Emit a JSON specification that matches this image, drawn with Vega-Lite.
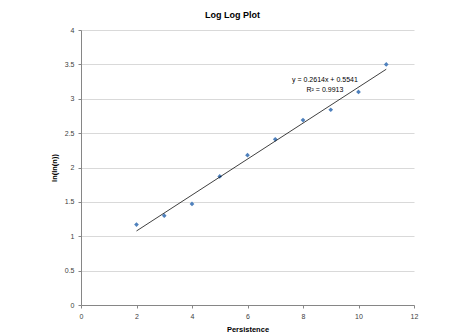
{
  "$schema": "https://vega.github.io/schema/vega-lite/v6.json",
  "width": 333,
  "height": 275,
  "autosize": {"type": "none"},
  "padding": {"left": 81, "top": 30, "right": 40, "bottom": 30},
  "background": "white",
  "title": {"text": "Log Log Plot", "font": "Liberation Sans", "fontSize": 9, "fontWeight": "bold", "color": "#000000", "offset": 6, "dx": -15},
  "config": {
    "view": {"stroke": null},
    "axis": {"labelFont": "Liberation Sans", "labelFontSize": 7, "labelColor": "#404040", "titleFont": "Liberation Sans", "titleFontSize": 7.5, "titleFontWeight": "bold", "titleColor": "#000000", "domainColor": "#868686", "tickColor": "#868686", "tickSize": 3, "gridColor": "#d9d9d9", "labelOverlap": false, "labelFlush": false, "labelExpr": "datum.value + ''"}
  },
  "encoding": {
    "x": {"field": "x", "type": "quantitative", "scale": {"domain": [0, 12]}, "axis": {"values": [0, 2, 4, 6, 8, 10, 12], "grid": false, "title": "Persistence", "titlePadding": 6, "labelPadding": 4}},
    "y": {"field": "y", "type": "quantitative", "scale": {"domain": [0, 4]}, "axis": {"values": [0, 0.5, 1, 1.5, 2, 2.5, 3, 3.5, 4], "tickCount": 9, "grid": true, "title": "ln(ln(n))", "titlePadding": 6, "labelPadding": 4}}
  },
  "layer": [
    {
      "data": {"values": [
        {"x": 2, "y": 1.17}, {"x": 3, "y": 1.30}, {"x": 4, "y": 1.47}, {"x": 5, "y": 1.87},
        {"x": 6, "y": 2.18}, {"x": 7, "y": 2.41}, {"x": 8, "y": 2.69}, {"x": 9, "y": 2.84},
        {"x": 10, "y": 3.10}, {"x": 11, "y": 3.50}
      ]},
      "mark": {"type": "point", "shape": "diamond", "filled": true, "color": "#4f81bd", "size": 22, "opacity": 1}
    },
    {
      "data": {"values": [{"x": 2, "y": 1.0769}, {"x": 11, "y": 3.4295}]},
      "mark": {"type": "line", "color": "#000000", "strokeWidth": 0.75}
    },
    {
      "data": {"values": [{"x": 8.79, "y": 3.27, "t": "y = 0.2614x + 0.5541"}, {"x": 8.79, "y": 3.125, "t": "R² = 0.9913"}]},
      "mark": {"type": "text", "font": "Liberation Sans", "fontSize": 7, "color": "#000000", "baseline": "middle", "align": "center"},
      "encoding": {"text": {"field": "t"}}
    }
  ]
}
